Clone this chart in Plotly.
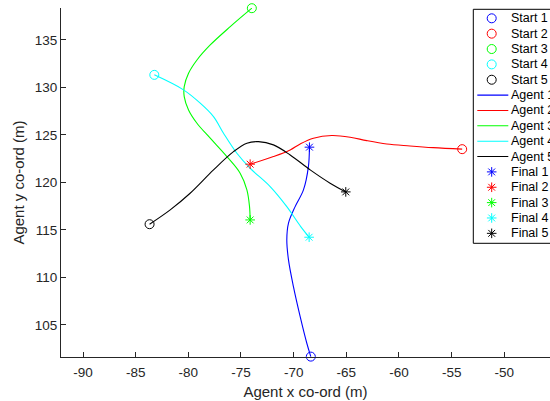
import plotly.graph_objects as go

# ---- data -------------------------------------------------------------
agent_names = ["Agent 1", "Agent 2", "Agent 3", "Agent 4", "Agent 5"]
start_labels = ["Start 1", "Start 2", "Start 3", "Start 4", "Start 5"]
final_labels = ["Final 1", "Final 2", "Final 3", "Final 4", "Final 5"]
colors = ["#0000ff", "#ff0000", "#00ff00", "#00ffff", "#000000"]

# trajectories, ordered from start position to final position
agent1_x = [-68.37, -68.75, -69.38, -70.02, -70.49, -70.65, -70.49, -69.86, -69.07, -68.60, -68.50]
agent1_y = [101.66, 103.07, 105.87, 109.03, 111.84, 113.95, 115.71, 117.45, 119.21, 121.66, 123.71]

agent2_x = [-54.00, -56.74, -58.95, -61.16, -63.06, -64.64, -66.38, -68.12, -69.38, -70.33, -71.92, -74.13]
agent2_y = [123.50, 123.66, 123.84, 124.05, 124.40, 124.76, 124.93, 124.65, 124.05, 123.42, 122.72, 121.92]

agent3_x = [-73.97, -76.02, -77.92, -79.18, -79.98, -80.39, -80.39, -79.98, -79.18, -77.92, -76.34, -75.08, -74.44, -74.19, -74.13]
agent3_y = [138.34, 136.40, 134.47, 132.89, 131.49, 130.08, 129.03, 127.63, 126.23, 124.65, 122.72, 120.97, 119.21, 117.45, 116.05]

agent4_x = [-83.23, -80.46, -78.87, -77.61, -76.66, -75.39, -74.13, -72.23, -70.65, -69.33, -68.53]
agent4_y = [131.32, 129.74, 128.34, 126.93, 125.18, 123.07, 121.49, 119.56, 117.45, 115.35, 114.23]

agent5_x = [-83.68, -81.72, -79.83, -77.61, -75.71, -74.44, -73.34, -71.92, -70.33, -68.43, -66.54, -65.05]
agent5_y = [115.60, 117.11, 118.86, 121.32, 123.24, 124.13, 124.29, 123.95, 122.89, 121.32, 119.92, 119.00]

x_ticks = [-90, -85, -80, -75, -70, -65, -60, -55, -50]
x_tick_labels = ["-90", "-85", "-80", "-75", "-70", "-65", "-60", "-55", "-50"]
y_ticks = [105, 110, 115, 120, 125, 130, 135]
y_tick_labels = ["105", "110", "115", "120", "125", "130", "135"]

paths_x = [agent1_x, agent2_x, agent3_x, agent4_x, agent5_x]
paths_y = [agent1_y, agent2_y, agent3_y, agent4_y, agent5_y]

FONT = "Liberation Sans, Arial, Helvetica, sans-serif"
AXIS_COLOR = "#262626"

fig = go.Figure()

# start positions
for k in range(5):
    fig.add_trace(go.Scatter(
        x=[paths_x[k][0]], y=[paths_y[k][0]], mode="markers", cliponaxis=False,
        marker=dict(symbol="circle-open", size=9, color=colors[k], line=dict(width=1)),
        name=start_labels[k], showlegend=False, hoverinfo="skip"))

# trajectories
for k in range(5):
    fig.add_trace(go.Scatter(
        x=paths_x[k], y=paths_y[k], mode="lines", cliponaxis=False,
        line=dict(color=colors[k], width=1.1, shape="spline", smoothing=1.0),
        name=agent_names[k], showlegend=False, hoverinfo="skip"))

# final positions
for k in range(5):
    fig.add_trace(go.Scatter(
        x=[paths_x[k][-1]], y=[paths_y[k][-1]], mode="markers", cliponaxis=False,
        marker=dict(symbol="asterisk-open", size=8, color=colors[k], line=dict(width=1, color=colors[k])),
        name=final_labels[k], showlegend=False, hoverinfo="skip"))

# ---- legend box drawn on its own small axes ---------------------------
row_step = 15.36
row0 = 9.0
legend_labels = start_labels + agent_names + final_labels
for i, label in enumerate(legend_labels):
    k = i % 5
    yy = row0 + row_step * i
    if i < 5:
        fig.add_trace(go.Scatter(
            x=[18.4], y=[yy], mode="markers", xaxis="x2", yaxis="y2",
            marker=dict(symbol="circle-open", size=9, color=colors[k], line=dict(width=1)),
            showlegend=False, hoverinfo="skip"))
    elif i < 10:
        fig.add_trace(go.Scatter(
            x=[4.0, 35.0], y=[yy, yy], mode="lines", xaxis="x2", yaxis="y2",
            line=dict(color=colors[k], width=1.1),
            showlegend=False, hoverinfo="skip"))
    else:
        fig.add_trace(go.Scatter(
            x=[18.4], y=[yy], mode="markers", xaxis="x2", yaxis="y2",
            marker=dict(symbol="asterisk-open", size=8, color=colors[k], line=dict(width=1, color=colors[k])),
            showlegend=False, hoverinfo="skip"))
    fig.add_annotation(
        x=35.8, y=yy, xref="x2", yref="y2", text=label, showarrow=False,
        xanchor="left", yanchor="middle",
        font=dict(family=FONT, size=12.5, color="#000000"))

# plot area spans pixels 61..550 horizontally and 8..357 vertically
L, R, T, B = 61, 0, 8, 44
W, H = 550, 401
pw, ph = W - L - R, H - T - B
leg_left, leg_top, leg_bottom = 473.3, 9.3, 243.3
lx0 = (leg_left - L) / pw
ly1 = (H - B - leg_top) / ph
ly0 = (H - B - leg_bottom) / ph

fig.add_shape(type="rect", xref="paper", yref="paper",
              x0=lx0, x1=1.05, y0=ly0, y1=ly1,
              line=dict(color="#000000", width=1), fillcolor="white", layer="below")

axis_common = dict(
    showgrid=False, zeroline=False, showline=True, linecolor=AXIS_COLOR, linewidth=1,
    ticks="inside", ticklen=5, tickwidth=1, tickcolor=AXIS_COLOR,
    tickfont=dict(family=FONT, size=13.5, color=AXIS_COLOR),
    mirror=False,
)

fig.update_layout(
    width=W, height=H,
    margin=dict(l=L, r=R, t=T, b=B, pad=0),
    paper_bgcolor="white", plot_bgcolor="rgba(0,0,0,0)",
    showlegend=False,
    xaxis=dict(axis_common, range=[-92.09, -45.66], tickvals=x_ticks, ticktext=x_tick_labels,
               ticklabelstandoff=3,
               title=dict(text="Agent x co-ord (m)", font=dict(family=FONT, size=15, color=AXIS_COLOR),
                          standoff=7),
               domain=[0, 1], anchor="y"),
    yaxis=dict(axis_common, range=[101.62, 138.36], tickvals=y_ticks, ticktext=y_tick_labels,
               title=dict(text="Agent y co-ord (m)", font=dict(family=FONT, size=15, color=AXIS_COLOR),
                          standoff=6),
               domain=[0, 1], anchor="x"),
    xaxis2=dict(domain=[lx0, 1.0], range=[0, W - leg_left], anchor="y2", visible=False, fixedrange=True),
    yaxis2=dict(domain=[ly0, ly1], range=[leg_bottom - leg_top, 0], anchor="x2", visible=False, fixedrange=True),
)

fig.write_html("out.html")
